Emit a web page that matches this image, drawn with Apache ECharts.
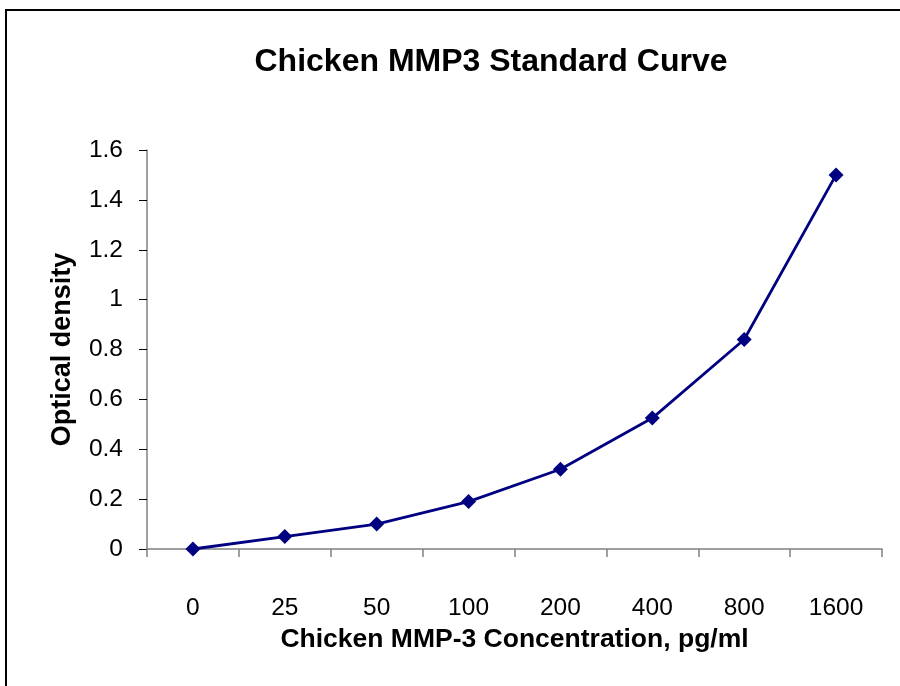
<!DOCTYPE html>
<html><head><meta charset="utf-8">
<script src="https://cdn.jsdelivr.net/npm/echarts@6/dist/echarts.min.js"></script>
<style>html,body{margin:0;padding:0;background:#fff}#c{width:900px;height:686px}</style>
</head><body><div id="c"></div>
<script>
const categories = ['0','25','50','100','200','400','800','1600'];
const opticalDensity = [0, 0.05, 0.10, 0.19, 0.32, 0.525, 0.84, 1.50];
const yTicks = [0, 0.2, 0.4, 0.6, 0.8, 1, 1.2, 1.4, 1.6];

const chart = echarts.init(document.getElementById('c'), null, {renderer:'canvas'});
const font = '"Liberation Sans", Arial, sans-serif';
chart.setOption({
  animation:false,
  backgroundColor:'#fff',
  graphic:[{type:'rect', shape:{x:6,y:10,width:1000,height:800}, style:{fill:'none', stroke:'#000', lineWidth:2}}],
  title:{text:'Chicken MMP3 Standard Curve', left:486, top:41, textAlign:'center',
    textStyle:{fontFamily:font, fontSize:32, fontWeight:'bold', color:'#000'}},
  grid:{left:147, right:18, top:150, bottom:137},
  xAxis:{type:'category', data:categories, boundaryGap:true,
    name:'Chicken MMP-3 Concentration, pg/ml', nameLocation:'middle', nameGap:71,
    nameTextStyle:{fontFamily:font, fontSize:26.5, fontWeight:'bold', color:'#000'},
    axisLine:{lineStyle:{color:'#808080', width:1.5}},
    axisTick:{show:true, alignWithLabel:false, length:8, lineStyle:{color:'#808080', width:1.5}},
    axisLabel:{fontFamily:font, fontSize:24.5, color:'#000', margin:47},
    splitLine:{show:false}},
  yAxis:{type:'value', min:0, max:1.6, interval:0.2,
    name:'Optical density', nameLocation:'middle', nameGap:71, nameRotate:90,
    nameTextStyle:{fontFamily:font, fontSize:27, fontWeight:'bold', color:'#000'},
    axisLine:{show:true, lineStyle:{color:'#808080', width:1.5}},
    axisTick:{show:true, length:8, lineStyle:{color:'#000', width:1}},
    axisLabel:{fontFamily:font, fontSize:24.5, color:'#000', margin:24,
      formatter:v=>{const t=yTicks.find(x=>Math.abs(x-v)<1e-9); return String(Math.round((t??v)*10)/10);}},
    splitLine:{show:false}},
  series:[{type:'line', data:opticalDensity, symbol:'diamond', symbolSize:15,
    lineStyle:{color:'#000080', width:2.8}, itemStyle:{color:'#000080'}}]
});
</script></body></html>
